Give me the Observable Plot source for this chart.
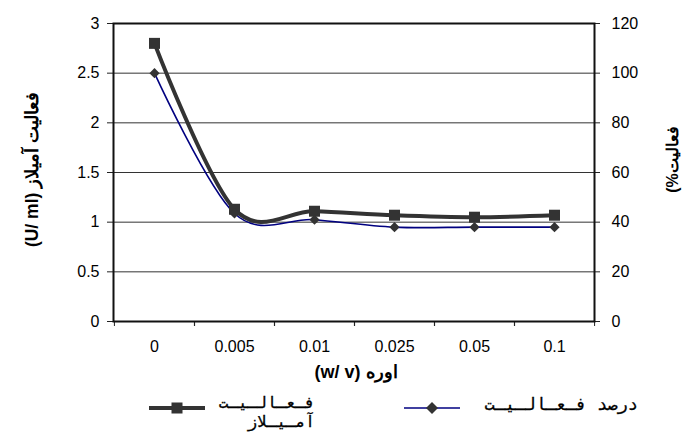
<!DOCTYPE html>
<html><head><meta charset="utf-8">
<script src="https://cdn.jsdelivr.net/npm/d3@7"></script>
<script src="https://cdn.jsdelivr.net/npm/@observablehq/plot@0.6"></script>
<style>
body{margin:0;background:#fff;}
#wrap{position:relative;width:682px;height:433px;font-family:"Liberation Sans",Arial,sans-serif;overflow:hidden;}
.legtxt{position:absolute;font-family:"DejaVu Sans Mono",monospace;font-size:16px;line-height:19px;color:#000;white-space:nowrap;-webkit-text-stroke:0.3px #000;text-align:right;}
.legsym{position:absolute;}
</style></head><body><div id="wrap"></div>
<script>
const concentrations = ["0", "0.005", "0.01", "0.025", "0.05", "0.1"];
const amylaseActivity = [2.8, 1.13, 1.11, 1.07, 1.05, 1.07];
const percentActivity = [100, 43.5, 41, 38, 38, 38];
const leftTicks = [0, 0.5, 1, 1.5, 2, 2.5, 3];
const rightTicks = [0, 20, 40, 60, 80, 100, 120];
const leftTitle = "(U/ ml) فعالیت آمیلاز";
const rightTitle = "(%فعالیت";
const xTitle = "(w/ v) اوره";
const seriesNames = [["فـعـالـیـت", "آمـیـلاز"], ["درصد فـعـالـیـت"]];

const ratio = rightTicks[rightTicks.length - 1] / leftTicks[leftTicks.length - 1];
const rows = concentrations.map((c, i) => ({c, a: amylaseActivity[i], p: percentActivity[i] / ratio}));

const W = 682, H = 385, mL = 113, mR = 88, mT = 23, mB = 64;
const bw = (W - mL - mR) / concentrations.length;

const chart = Plot.plot({
  width: W, height: H, marginTop: mT, marginBottom: mB, marginLeft: mL, marginRight: mR,
  style: {fontFamily: "Liberation Sans, Arial, sans-serif", fontSize: "16px", color: "#000", background: "#fff", overflow: "visible"},
  x: {type: "band", domain: concentrations, paddingInner: 0, paddingOuter: 0, label: null},
  y: {domain: [0, 3], label: null},
  marks: [
    Plot.gridY(leftTicks, {stroke: "#333", strokeOpacity: 1, strokeWidth: 1}),
    Plot.axisY(leftTicks, {anchor: "left", tickSize: 6, tickPadding: 8, tickFormat: d => String(d), label: null, stroke: "#222"}),
    Plot.axisY(leftTicks, {anchor: "right", tickSize: 5, tickPadding: 12, tickFormat: d => String(d * ratio), label: null, stroke: "#222"}),
    Plot.axisX(concentrations, {anchor: "bottom", tickSize: 0, tickPadding: 19, label: null}),
    Plot.axisX(concentrations, {anchor: "bottom", tickSize: 5, dx: -bw / 2, tickFormat: () => "", label: null, stroke: "#222"}),
    Plot.axisX(concentrations, {anchor: "bottom", tickSize: 5, dx: bw / 2, tickFormat: () => "", label: null, stroke: "#222"}),
    Plot.frame({stroke: "#111", strokeWidth: 2}),
    Plot.line(rows, {x: "c", y: "p", curve: "cardinal", tension: 0, stroke: "#000080", strokeWidth: 1.6}),
    Plot.line(rows, {x: "c", y: "a", curve: "cardinal", tension: 0, stroke: "#333", strokeWidth: 4}),
    Plot.dot(rows, {x: "c", y: "a", symbol: "square", r: 6.2, fill: "#333", stroke: "none"}),
    Plot.dot(rows, {x: "c", y: "p", symbol: "diamond2", r: 4.6, fill: "#333", stroke: "none"}),
    Plot.text([leftTitle], {text: d => d, frameAnchor: "left", textAnchor: "middle", lineAnchor: "middle", rotate: -90, dx: -81, dy: -3, fontWeight: "bold", fontSize: 17.5}),
    Plot.text([rightTitle], {text: d => d, frameAnchor: "right", textAnchor: "middle", lineAnchor: "middle", rotate: -90, dx: 78, dy: -13, fontWeight: "bold", fontSize: 16}),
    Plot.text([xTitle], {text: d => d, frameAnchor: "bottom", textAnchor: "middle", lineAnchor: "middle", dy: 51, dx: 2, fontWeight: "bold", fontSize: 18})
  ]
});
const wrap = document.getElementById("wrap");
wrap.appendChild(chart);

// legend
function sym(left, top, color, width, kind) {
  const s = d3.create("svg").attr("class", "legsym").attr("width", 60).attr("height", 16)
    .style("left", left + "px").style("top", top + "px");
  s.append("line").attr("x1", 0).attr("x2", 56).attr("y1", 8).attr("y2", 8).attr("stroke", color).attr("stroke-width", width);
  if (kind === "square") s.append("rect").attr("x", 22.5).attr("y", 2.5).attr("width", 11).attr("height", 11).attr("fill", "#333");
  else s.append("path").attr("d", "M28,2L34,8L28,14L22,8Z").attr("fill", "#333");
  wrap.appendChild(s.node());
}
sym(149, 400, "#333", 4, "square");
sym(404, 400, "#000080", 1.6, "diamond");
function txt(left, top, width, str, size) {
  const d = document.createElement("div");
  d.className = "legtxt";
  d.style.left = left + "px"; d.style.top = top + "px"; d.style.width = width + "px";
  d.style.fontSize = size + "px";
  d.dir = "rtl";
  d.textContent = str;
  wrap.appendChild(d);
}
txt(215, 393, 100, seriesNames[0][0], 16);
txt(215, 412, 100, seriesNames[0][1], 16);
txt(470, 395, 168, seriesNames[1][0], 17);
</script></body></html>
